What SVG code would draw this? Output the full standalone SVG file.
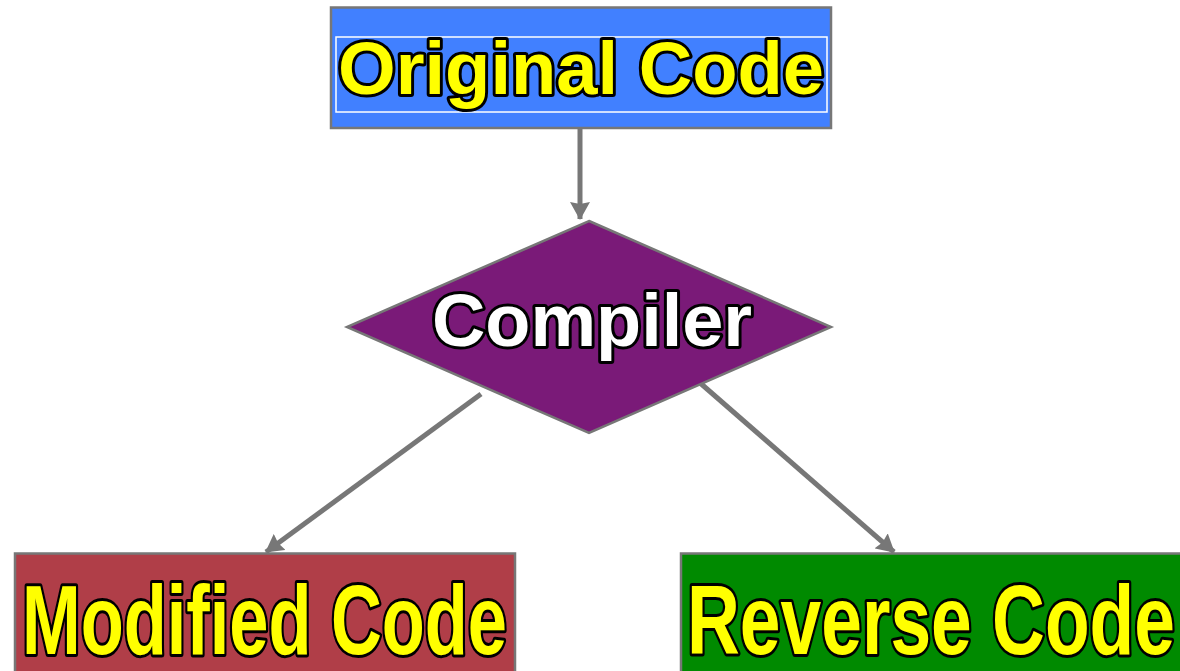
<svg xmlns="http://www.w3.org/2000/svg" width="1180" height="671" viewBox="0 0 1180 671">
  <style>
    .box { stroke: #777777; stroke-width: 2.5; }
    .label { font-family: "Liberation Sans", Arial, sans-serif; font-weight: bold; stroke: #000000; stroke-width: 6; stroke-linejoin: round; paint-order: stroke; }
    .yellow { fill: #ffff00; }
    .white { fill: #ffffff; }
    .conn { stroke: #777777; stroke-width: 5; fill: none; marker-end: url(#arrow); }
  </style>
  <defs>
    <marker id="arrow" viewBox="0 0 18 20" refX="17" refY="10" markerWidth="18" markerHeight="20" orient="auto" markerUnits="userSpaceOnUse">
      <path d="M0,0 L18,10 L0,20 L2,10 Z" fill="#777777"/>
    </marker>
  </defs>
  <rect width="1180" height="671" fill="#ffffff"/>

  <g id="connectors">
    <line class="conn" x1="580" y1="129" x2="580" y2="219"/>
    <line class="conn" x1="481" y1="394" x2="266" y2="552"/>
    <line class="conn" x1="699" y1="382" x2="894" y2="552"/>
  </g>

  <g id="original-code">
    <rect class="box" x="331" y="7.5" width="500" height="120.5" fill="#4180ff"/>
    <rect x="336" y="37" width="491" height="75" fill="none" stroke="#ffffff" stroke-width="1.5"/>
    <text class="label yellow" x="338" y="94" font-size="75" textLength="486" lengthAdjust="spacingAndGlyphs">Original Code</text>
  </g>

  <g id="compiler">
    <polygon class="box" points="589,221 831,327 589,433 347,327" fill="#7a1a78"/>
    <text class="label white" x="592" y="346" font-size="74" text-anchor="middle" textLength="320" lengthAdjust="spacingAndGlyphs">Compiler</text>
  </g>

  <g id="modified-code">
    <rect class="box" x="15" y="553.5" width="500" height="125" fill="#b03e48"/>
    <text class="label yellow" x="22" y="654" font-size="98" textLength="485" lengthAdjust="spacingAndGlyphs">Modified Code</text>
  </g>

  <g id="reverse-code">
    <rect class="box" x="681" y="553.5" width="505" height="125" fill="#008a00"/>
    <text class="label yellow" x="687" y="654" font-size="98" textLength="488" lengthAdjust="spacingAndGlyphs">Reverse Code</text>
  </g>
</svg>
